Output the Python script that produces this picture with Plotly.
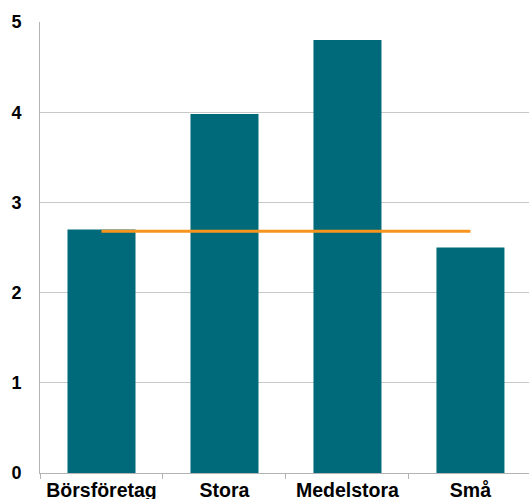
import plotly.graph_objects as go

categories = ["Börsföretag", "Stora", "Medelstora", "Små"]
bar_values = [2.70, 3.98, 4.80, 2.50]
line_values = [2.68, 2.68, 2.68, 2.68]
y_ticks = [0, 1, 2, 3, 4, 5]

fig = go.Figure()
fig.add_trace(go.Bar(x=categories, y=bar_values, marker=dict(color="#006A7A", line=dict(width=0)),
                     showlegend=False, hoverinfo="skip"))
fig.add_trace(go.Scatter(x=categories, y=line_values, mode="lines",
                         line=dict(color="#F7941D", width=3), showlegend=False, hoverinfo="skip"))

font = dict(family="Liberation Sans, Arial, sans-serif", size=18, color="#000000")
fig.update_layout(
    width=529, height=499,
    margin=dict(l=40, r=0, t=22, b=26),
    plot_bgcolor="white", paper_bgcolor="white",
    bargap=0.447,
    font=font,
    xaxis=dict(range=[-0.5, 3.476], showline=True, linecolor="#B3B3B3", linewidth=1,
               ticks="outside", tickson="boundaries", ticklen=5, tickcolor="#B3B3B3",
               ticklabelstandoff=0, automargin=False,
               tickfont=dict(family="Liberation Sans, Arial, sans-serif", size=19.5, color="#000000", weight="bold"),
               showgrid=False, fixedrange=True),
    yaxis=dict(range=[0, 5], tickvals=y_ticks, showline=True, linecolor="#B3B3B3", linewidth=1,
               gridcolor="#C8C8C8", gridwidth=1, zeroline=False, automargin=False,
               ticklabelstandoff=14, fixedrange=True,
               tickfont=dict(family="Liberation Sans, Arial, sans-serif", size=18, color="#000000", weight="bold")),
)
fig.write_html("out.html", config={"displayModeBar": False},
               post_script="document.body.style.margin='0';document.body.style.overflow='hidden';")
